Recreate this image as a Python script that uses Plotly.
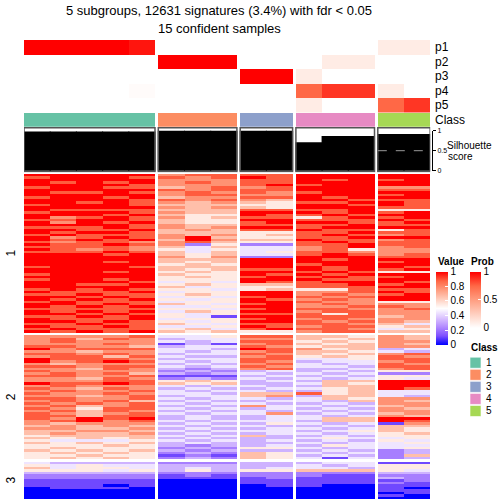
import plotly.graph_objects as go

# ---------------- data ----------------
TITLE1 = "5 subgroups, 12631 signatures (3.4%) with fdr < 0.05"
TITLE2 = "15 confident samples"

group_sizes = [5, 3, 2, 3, 2]          # samples per class
classes = [1, 1, 1, 1, 1, 2, 2, 2, 3, 3, 4, 4, 4, 5, 5]
class_names = ["1", "2", "3", "4", "5"]
class_colors = ["#66C2A5", "#FC8D62", "#8DA0CB", "#E78AC3", "#A6D854"]

p1 = [1, 1, 1, 1, 0.95, 0, 0, 0, 0, 0, 0, 0, 0, 0.1, 0.1]
p2 = [0, 0, 0, 0, 0, 1, 1, 1, 0, 0, 0, 0.1, 0.1, 0, 0]
p3 = [0, 0, 0, 0, 0, 0, 0, 0, 1, 1, 0.1, 0, 0, 0, 0]
p4 = [0, 0, 0, 0, 0.02, 0, 0, 0, 0, 0, 0.75, 0.87, 0.87, 0.1, 0]
p5 = [0, 0, 0, 0, 0, 0, 0, 0, 0, 0, 0.1, 0, 0, 0.75, 0.87]
prob_labels = ["p1", "p2", "p3", "p4", "p5"]

silhouette = [0.98, 0.98, 0.98, 0.98, 0.98, 1, 1, 1, 1, 1, 0.71, 0.87, 0.87, 0.92, 0.92]

row_group_labels = ["1", "2", "3"]

# scaled expression, one string per row, digit d -> d/9 ; column groups separated by spaces
rows_g1 = [
    "99999 788 88 999 99", "89998 878 98 999 99", "99999 777 88 989 89", "98989 787 88 999 99",
    "99998 777 89 899 99", "89988 678 78 999 77", "99999 878 88 999 88", "98898 787 87 899 99",
    "99999 788 77 999 89", "89989 677 88 989 99", "99998 878 76 998 88", "99898 767 65 889 98",
    "89998 666 55 998 98", "99999 767 65 999 88", "98888 666 88 889 55", "89998 766 99 989 89",
    "99989 655 98 898 99", "97898 756 88 589 89", "88998 655 99 888 98", "97989 655 89 998 89",
    "99998 766 88 889 88", "88898 767 99 899 99", "99889 676 88 988 58", "98998 666 55 889 88",
    "89888 767 56 898 78", "97898 796 55 889 99", "98989 697 66 988 78", "87887 786 55 898 88",
    "98898 725 22 889 88", "88887 646 44 789 78", "98787 545 44 785 77", "88898 646 45 887 77",
    "99989 656 44 898 78", "99999 757 22 999 88", "99999 666 99 989 99", "99989 656 99 999 89",
    "99999 565 99 899 99", "89998 666 99 989 98", "99999 656 88 989 89", "99989 565 99 898 55",
    "89999 655 98 989 99", "99999 565 89 898 89", "89989 555 99 988 99", "99998 454 98 899 98",
    "99889 565 66 889 89", "99999 645 55 888 99", "89898 554 56 558 88", "98889 455 99 778 98",
    "88988 565 99 787 89", "99898 454 89 878 99", "98989 545 98 787 99", "89888 455 99 877 55",
    "99898 654 89 787 77", "98989 445 99 778 87", "88888 554 89 887 78", "98989 465 99 788 77",
    "99898 545 88 858 77", "88989 541 99 888 67", "98889 455 89 787 77", "99898 545 99 878 76",
    "88988 654 88 887 64", "98898 445 98 788 56", "89888 564 89 887 45", "98989 656 55 788 66",
]
rows_g2 = [
    "77778 445 88 665 76", "78687 344 77 656 76", "78777 434 88 565 77", "77787 131 78 656 76",
    "88776 344 87 566 77", "97888 443 98 756 34", "77677 434 78 665 43", "88787 344 87 656 78",
    "78868 433 78 565 87", "98887 344 88 445 88", "97898 434 87 344 78", "76777 343 78 434 87",
    "88788 434 87 443 88", "77687 323 78 334 78", "87777 232 34 343 55", "78786 323 43 434 22",
    "88778 111 34 343 55", "77687 232 43 434 54", "77788 565 34 366 99", "98898 656 33 465 99",
    "78777 434 43 366 99", "87687 343 34 456 98", "78778 434 43 356 44", "87787 443 66 856 44",
    "77678 344 67 366 43", "88778 434 43 465 77", "78786 343 34 436 76", "87878 434 43 343 77",
    "78678 343 74 434 67", "87588 434 34 343 76", "78687 343 43 434 77", "87678 434 47 343 67",
    "88688 343 34 434 76", "87989 343 34 466 99", "78978 434 44 366 98", "76777 343 35 434 17",
    "67676 434 43 343 66", "77667 343 34 434 65", "66776 434 44 345 65", "67667 343 34 434 56",
    "56666 434 63 343 55", "65656 343 33 454 45", "54445 434 34 343 54", "65656 343 33 434 45",
    "55565 323 34 354 44", "56555 232 55 434 45", "65656 323 33 343 23", "56565 232 65 434 23",
    "55655 121 65 343 26", "56565 232 65 414 23",
]
rows_g3 = [
    "43333 222 33 344 11", "54544 333 33 434 55", "64554 343 34 443 55", "55545 353 55 666 54",
    "33333 222 22 222 33", "22222 121 22 211 22", "22222 111 12 111 32", "11111 000 11 111 12",
    "11111 000 11 111 21", "11101 000 01 100 11", "01110 000 00 000 10", "00000 000 00 000 11",
    "00000 000 00 000 01", "00000 000 00 000 10", "00000 000 00 000 00",
]

# ---------------- geometry helpers ----------------
W = H = 504.0
def fx(px): return px / W
def fy(px): return 1 - px / H

COL_GAP = 0.126   # gap between column slices (in sample widths)
ROW_GAP = 1.0     # gap between row slices (in row heights)

# x edges with gap columns
x_edges = [0.0]
col_is_gap = []
group_bounds = []
pos = 0.0
for gi, n in enumerate(group_sizes):
    start = pos
    for _ in range(n):
        pos += 1
        x_edges.append(pos)
        col_is_gap.append(False)
    group_bounds.append((start, pos))
    if gi < len(group_sizes) - 1:
        pos += COL_GAP
        x_edges.append(pos)
        col_is_gap.append(True)
x_total = pos
sample_centers = [(a + b) / 2 for a, b, g in zip(x_edges[:-1], x_edges[1:], col_is_gap) if not g]

def expand_cols(vals):
    out, k = [], 0
    for g in col_is_gap:
        if g:
            out.append(None)
        else:
            out.append(vals[k]); k += 1
    return out

# main matrix with gap rows
row_groups = [rows_g1, rows_g2, rows_g3]
y_edges = [0.0]
z_main = []
row_centers = []
ypos = 0.0
for gi, rows in enumerate(row_groups):
    start = ypos
    for r in rows:
        vals = [int(c) / 9 for c in r.replace(" ", "")]
        z_main.append(expand_cols(vals))
        ypos += 1
        y_edges.append(ypos)
    row_centers.append((start + ypos) / 2)
    if gi < len(row_groups) - 1:
        z_main.append([None] * len(col_is_gap))
        ypos += ROW_GAP
        y_edges.append(ypos)
y_total = ypos

value_scale = [
    [0.0, "rgb(0,0,255)"], [0.125, "rgb(126,81,255)"], [0.25, "rgb(179,139,255)"],
    [0.375, "rgb(220,197,255)"], [0.5, "rgb(255,255,255)"], [0.625, "rgb(255,207,191)"],
    [0.75, "rgb(255,158,129)"], [0.875, "rgb(255,104,70)"], [1.0, "rgb(255,0,0)"],
]
prob_scale = [
    [0.0, "rgb(255,255,255)"], [0.25, "rgb(255,207,191)"], [0.5, "rgb(255,158,129)"],
    [0.75, "rgb(255,104,70)"], [1.0, "rgb(255,0,0)"],
]
class_scale = []
for i, c in enumerate(class_colors):
    class_scale += [[i / 5, c], [(i + 1) / 5, c]]

FONT = "Arial, Liberation Sans, Helvetica, sans-serif"

fig = go.Figure()

# main heatmap
fig.add_trace(go.Heatmap(
    z=z_main, x=x_edges, y=y_edges, zmin=0, zmax=1, colorscale=value_scale,
    xaxis="x", yaxis="y", hoverongaps=False,
    colorbar=dict(x=fx(436), xanchor="left", xpad=0, y=fy(271.7), yanchor="top", ypad=0,
                  len=73, lenmode="pixels", thickness=12, thicknessmode="pixels",
                  outlinewidth=0, tickvals=[0, 0.2, 0.4, 0.6, 0.8, 1],
                  ticktext=["0", "0.2", "0.4", "0.6", "0.8", "1"],
                  ticks="inside", tickcolor="white", ticklen=3,
                  tickfont=dict(size=10, family=FONT, color="black")),
))

# probability rows
p_rows = [expand_cols(p) for p in [p1, p2, p3, p4, p5]]
fig.add_trace(go.Heatmap(
    z=p_rows, x=x_edges, y=[0, 1, 2, 3, 4, 5], zmin=0, zmax=1, colorscale=prob_scale,
    xaxis="x", yaxis="y2", hoverongaps=False,
    colorbar=dict(x=fx(470), xanchor="left", xpad=0, y=fy(271.7), yanchor="top", ypad=0,
                  len=56, lenmode="pixels", thickness=11, thicknessmode="pixels",
                  outlinewidth=0, tickvals=[0, 0.5, 1], ticktext=["0", "0.5", "1"],
                  ticks="inside", tickcolor="white", ticklen=3,
                  tickfont=dict(size=10, family=FONT, color="black")),
))

# class row
fig.add_trace(go.Heatmap(
    z=[expand_cols(classes)], x=x_edges, y=[0, 1], zmin=0.5, zmax=5.5,
    colorscale=class_scale, showscale=False, xaxis="x", yaxis="y3", hoverongaps=False,
))

# silhouette bars
fig.add_trace(go.Bar(
    x=sample_centers, y=silhouette, width=[1.04] * len(silhouette),
    marker=dict(color="black", line=dict(width=0)), xaxis="x", yaxis="y4",
))
# invisible trace carrying the silhouette scale axis
fig.add_trace(go.Scatter(x=[0.5], y=[0.5], mode="markers", marker=dict(opacity=0),
                         xaxis="x", yaxis="y5", hoverinfo="skip"))

# class legend boxes
fig.add_trace(go.Scatter(
    x=[0] * 5, y=list(range(1, 6)), mode="markers", xaxis="x2", yaxis="y6",
    marker=dict(symbol="square", size=11, color=class_colors,
                line=dict(width=1, color="rgba(255,255,255,0.6)")),
    cliponaxis=False, hoverinfo="skip",
))

shapes = []
for (a, b) in group_bounds:
    shapes.append(dict(type="rect", xref="x", yref="y4", x0=a, x1=b, y0=-0.025, y1=1.075,
                       line=dict(color="#555555", width=1.5), fillcolor="rgba(0,0,0,0)"))
a5, b5 = group_bounds[-1]
shapes.append(dict(type="line", xref="x", yref="y4", x0=a5, x1=b5, y0=0.5, y1=0.5,
                   line=dict(color="#999999", width=1, dash="dash")))

def txt(text, x, y, size, xref="paper", yref="paper", xanchor="center", **kw):
    return dict(text=text, x=x, y=y, xref=xref, yref=yref, xanchor=xanchor, yanchor="middle",
                showarrow=False, font=dict(size=size, family=FONT, color="black"), **kw)

ann = []
ann.append(txt(TITLE1, fx(219), fy(10.5), 13))
ann.append(txt(TITLE2, fx(219), fy(28), 13))
for i, lab in enumerate(prob_labels):
    ann.append(txt(lab, fx(433), i + 0.5, 12, yref="y2", xanchor="left"))
ann.append(txt("Class", fx(433), 0.5, 12, yref="y3", xanchor="left"))
ann.append(txt("Silhouette", fx(445), fy(145), 10, xanchor="left"))
ann.append(txt("score", fx(446), fy(156), 10, xanchor="left"))
for lab, yc in zip(row_group_labels, row_centers):
    ann.append(txt(lab, fx(11), yc, 12, yref="y", textangle=-90))
for t, px, py in [("Value", 436, 261), ("Prob", 469, 261), ("Class", 469, 347)]:
    ann.append(txt("<b>%s</b>" % t, fx(px), fy(py), 10, xanchor="left"))
for i, lab in enumerate(class_names):
    ann.append(txt(lab, fx(484), i + 1, 10, yref="y6", xanchor="left"))

hidden = dict(visible=False, fixedrange=True)
fig.update_layout(
    width=504, height=504, margin=dict(l=0, r=0, t=0, b=0, autoexpand=False),
    paper_bgcolor="white", plot_bgcolor="rgba(0,0,0,0)", showlegend=False,
    xaxis=dict(domain=[fx(24), fx(430.2)], range=[0, x_total], **hidden),
    yaxis=dict(domain=[fy(499), fy(174)], range=[y_total, 0], anchor="x", **hidden),
    yaxis2=dict(domain=[fy(112.5), fy(40)], range=[5, 0], anchor="x", **hidden),
    yaxis3=dict(domain=[fy(126.7), fy(113)], range=[1, 0], anchor="x", **hidden),
    yaxis4=dict(domain=[fy(172.2), fy(127)], range=[-0.0375, 1.0925], anchor="x", **hidden),
    yaxis5=dict(domain=[fy(170.7), fy(130.7)], range=[0, 1], anchor="free", position=fx(432),
                side="right", showline=True, linecolor="black", linewidth=1, ticks="outside",
                ticklen=3, tickcolor="black", tickvals=[0, 0.5, 1], ticktext=["0", "0.5", "1"],
                tickfont=dict(size=7, family=FONT, color="black"), showgrid=False,
                zeroline=False, fixedrange=True),
    xaxis2=dict(domain=[fx(470), fx(481)], range=[-0.5, 0.5], anchor="y6", **hidden),
    yaxis6=dict(domain=[fy(417), fy(356.7)], range=[5.5, 0.5], anchor="x2", **hidden),
    shapes=shapes, annotations=ann,
)

# the page's default body margin would offset the 504x504 figure; remove it
fig.write_html("out.html", config={"displayModeBar": False},
               post_script="document.body.style.margin='0px';")
